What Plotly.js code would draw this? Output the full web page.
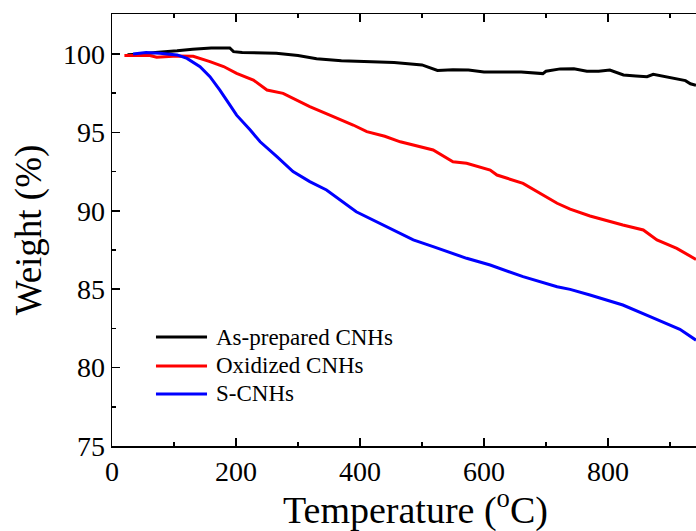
<!DOCTYPE html>
<html>
<head>
<meta charset="utf-8">
<script src="https://cdn.plot.ly/plotly-3.0.1.min.js"></script>
<style>html,body{margin:0;padding:0;background:#fff;}#chart{width:696px;height:531px;}</style>
</head>
<body>
<div id="chart"></div>
<script>
var seriesNames = ["As-prepared CNHs", "Oxidized CNHs", "S-CNHs"];
var seriesColors = ["#000000", "#ff0000", "#0000ff"];

var tempBlack = [25, 50, 70, 90, 105, 130, 160, 190, 196, 210, 240, 265, 300, 330, 370, 410, 455, 500, 525, 550, 575, 600, 625, 660, 695, 700, 723, 745, 766, 785, 803, 825, 845, 863, 873, 900, 925, 933, 942];
var weightBlack = [99.95, 100.0, 100.1, 100.15, 100.2, 100.3, 100.38, 100.38, 100.15, 100.1, 100.08, 100.05, 99.9, 99.7, 99.57, 99.5, 99.45, 99.3, 98.95, 99.0, 98.98, 98.85, 98.85, 98.85, 98.75, 98.9, 99.05, 99.06, 98.9, 98.9, 98.98, 98.66, 98.6, 98.55, 98.7, 98.5, 98.3, 98.1, 98.0];

var tempRed = [20, 40, 61, 72, 90, 105, 131, 147, 158, 180, 201, 228, 250, 276, 298, 319, 357, 389, 411, 440, 465, 518, 550, 572, 610, 621, 663, 718, 739, 771, 824, 857, 879, 911, 942];
var weightRed = [99.9, 99.9, 99.9, 99.79, 99.85, 99.87, 99.85, 99.66, 99.51, 99.2, 98.77, 98.34, 97.7, 97.49, 97.07, 96.64, 96.0, 95.47, 95.05, 94.75, 94.4, 93.88, 93.13, 93.03, 92.6, 92.28, 91.75, 90.48, 90.1, 89.67, 89.09, 88.78, 88.14, 87.6, 86.9];

var tempBlue = [34, 55, 77, 105, 121, 142, 158, 174, 190, 201, 223, 239, 266, 292, 319, 346, 394, 437, 486, 518, 572, 610, 663, 718, 739, 771, 824, 868, 916, 942];
var weightBlue = [100.0, 100.1, 100.04, 99.94, 99.72, 99.19, 98.55, 97.7, 96.75, 96.1, 95.15, 94.4, 93.45, 92.5, 91.86, 91.33, 89.94, 89.09, 88.14, 87.71, 86.97, 86.54, 85.8, 85.16, 84.99, 84.63, 83.99, 83.25, 82.44, 81.75];

var xTickVals = [0, 200, 400, 600, 800];
var yTickVals = [75, 80, 85, 90, 95, 100];
var xTitle = "Temperature (<sup>o</sup>C)";
var yTitle = "Weight (%)";

var serif = "Liberation Serif, Times New Roman, serif";
var xs = [tempBlack, tempRed, tempBlue];
var ys = [weightBlack, weightRed, weightBlue];
var traces = xs.map(function (x, i) {
  return {
    x: x, y: ys[i], type: "scatter", mode: "lines", name: seriesNames[i],
    line: {color: seriesColors[i], width: 3}, showlegend: false
  };
});

// legend drawn as paper-positioned samples + labels
var legendRowY = [0.2523, 0.1852, 0.1204];
var shapes = [], annotations = [];
seriesNames.forEach(function (nm, i) {
  shapes.push({type: "line", xref: "paper", yref: "paper", x0: 0.0753, x1: 0.1627,
    y0: legendRowY[i], y1: legendRowY[i], line: {color: seriesColors[i], width: 3}});
  annotations.push({xref: "paper", yref: "paper", x: 0.1764, y: legendRowY[i],
    xanchor: "left", yanchor: "middle", showarrow: false, text: nm, borderpad: 0,
    font: {family: serif, size: 23, color: "#000"}});
});
annotations.push({xref: "paper", yref: "paper", x: 0.52, y: -0.142, xanchor: "center", yanchor: "middle",
  showarrow: false, text: xTitle, borderpad: 0, font: {family: serif, size: 38, color: "#000"}});

var axisCommon = {
  showgrid: false, zeroline: false, showline: true, linecolor: "#000", linewidth: 1.5,
  ticks: "inside", ticklen: 8, tickwidth: 1.5, tickcolor: "#000",
  tickfont: {family: serif, size: 28, color: "#000"}
};

var layout = {
  width: 696, height: 531,
  margin: {l: 112, r: 0, t: 14, b: 85},
  paper_bgcolor: "#fff", plot_bgcolor: "#fff",
  showlegend: false,
  shapes: shapes, annotations: annotations,
  xaxis: Object.assign({}, axisCommon, {
    range: [0, 942], tickvals: xTickVals, ticktext: xTickVals.map(String),
    minor: {dtick: 100, tick0: 0, ticks: "inside", ticklen: 4, tickwidth: 1.5, tickcolor: "#000"}
  }),
  xaxis2: {
    overlaying: "x", matches: "x", side: "top", showgrid: false, zeroline: false,
    showline: true, linecolor: "#000", linewidth: 1.5, showticklabels: false,
    ticks: "inside", ticklen: 8, tickwidth: 1.5, tickcolor: "#000", tickvals: xTickVals,
    minor: {dtick: 100, tick0: 0, ticks: "inside", ticklen: 4, tickwidth: 1.5, tickcolor: "#000"},
    range: [0, 942]
  },
  yaxis: Object.assign({}, axisCommon, {
    range: [75, 102.55], tickvals: yTickVals, ticktext: yTickVals.map(String),
    minor: {dtick: 2.5, tick0: 75, ticks: "inside", ticklen: 4, tickwidth: 1.5, tickcolor: "#000"},
    title: {text: yTitle, font: {family: serif, size: 37, color: "#000"}, standoff: 10}
  })
};

traces.push({x: [0], y: [200], xaxis: "x2", yaxis: "y", type: "scatter", mode: "markers",
  showlegend: false, hoverinfo: "skip", marker: {opacity: 0}});

Plotly.newPlot("chart", traces, layout, {displayModeBar: false, staticPlot: true});
</script>
</body>
</html>
